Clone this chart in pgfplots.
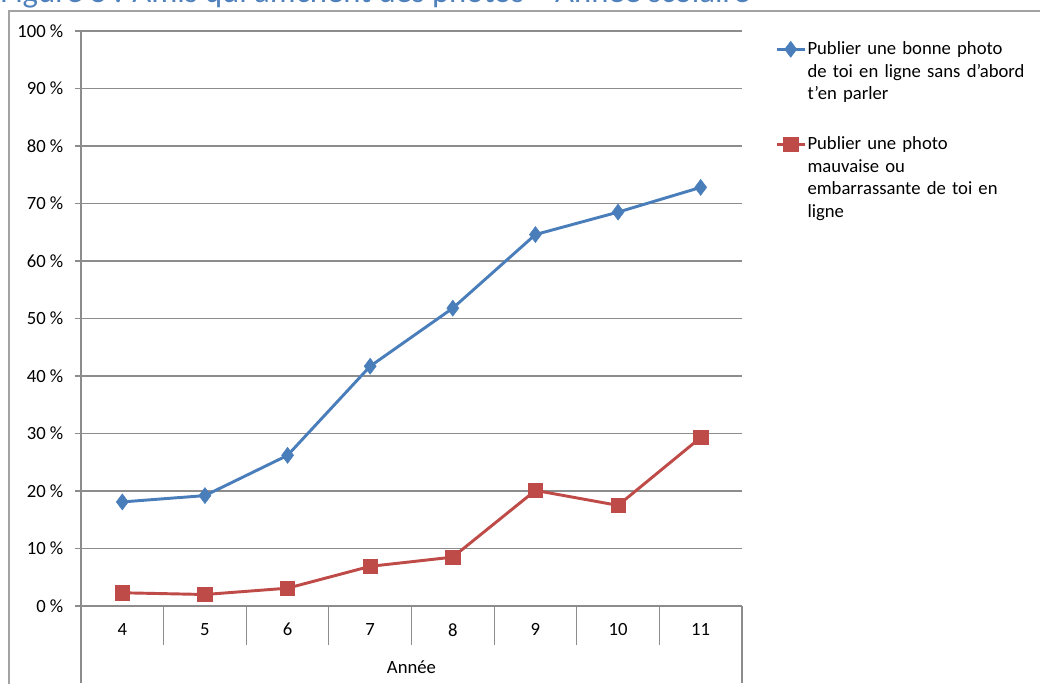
\documentclass[border=0pt]{standalone}
\usepackage{pgfplots}
\pgfplotsset{compat=1.18}
\usepackage{fontspec}
\setmainfont{Carlito}
\definecolor{cblue}{HTML}{4A7EBB}
\definecolor{cred}{HTML}{BE4B48}
\definecolor{ctitle}{HTML}{4F81BD}
\definecolor{cgrid}{HTML}{8C8C8C}
\begin{document}
\begin{tikzpicture}
\useasboundingbox (0pt,0pt) rectangle (780pt,512.25pt);
\node[anchor=base west, inner sep=0, text=ctitle, font=\fontsize{24.5}{29}\selectfont] at (0pt,510pt) {Figure 8 : Amis qui affichent des photos – Année scolaire};
\draw[cgrid!80, line width=0.9pt] (6.75pt,-5pt) -- (6.75pt,504pt) -- (785pt,504pt);
\begin{axis}[
  at={(60.75pt,57.75pt)}, anchor=south west,
  scale only axis, width=495.75pt, height=431.25pt,
  xmin=3.5, xmax=11.5, ymin=0, ymax=100,
  axis x line*=bottom, axis y line*=left,
  axis line style={cgrid, line width=0.9pt, -},
  xtick={4,...,11},
  minor xtick={3.5,4.5,...,11.5},
  ytick={0,10,...,100},
  tick align=outside,
  major tick length=4.5pt,
  minor tick length=29pt,
  major x tick style={draw=none},
  minor x tick style={cgrid, line width=0.9pt},
  major y tick style={cgrid, line width=0.9pt},
  ymajorgrids, grid style={cgrid, line width=0.9pt},
  /pgf/number format/assume math mode=true,
  yticklabel={\pgfmathprintnumber{\tick}~\%},
  ticklabel style={font=\fontsize{14}{17}\selectfont},
  yticklabel style={xshift=-5.25pt},
  xticklabel style={yshift=-5pt},
  xlabel={Année},
  xlabel style={font=\fontsize{14}{17}\selectfont, at={(axis description cs:0.5,0)}, anchor=center, yshift=-45.75pt},
  legend style={at={(1.0499,0.984)}, anchor=north west, draw=none, fill=none, inner sep=0pt,
    font=\fontsize{14}{16.9}\selectfont, row sep=58pt,
    nodes={text width=170pt, align=left, inner sep=1pt}},
  legend cell align=left,
  legend image code/.code={\draw[#1, mark repeat=2, mark phase=2] plot coordinates {(0pt,0pt) (10.5pt,0pt) (21pt,0pt)};},
  clip=false,
]
\addplot[cblue, line width=2.2pt, mark=diamond*, mark size=6pt, mark options={fill=cblue, draw=cblue, line width=0.4pt}]
  coordinates {(4,18.1) (5,19.2) (6,26.2) (7,41.7) (8,51.8) (9,64.6) (10,68.5) (11,72.8)};
\addlegendentry{Publier une bonne photo\newline de toi en ligne sans d’abord\newline t’en parler}
\addplot[cred, line width=2.2pt, mark=square*, mark size=5.4pt, mark options={fill=cred, draw=cred, line width=0.4pt}]
  coordinates {(4,2.3) (5,2.0) (6,3.1) (7,6.9) (8,8.5) (9,20.1) (10,17.5) (11,29.3)};
\addlegendentry{Publier une photo\newline mauvaise ou\newline embarrassante de toi en\newline ligne}
\end{axis}
\draw[cgrid, line width=0.9pt] (60.75pt,57.75pt) -- (60.75pt,0pt);
\draw[cgrid, line width=0.9pt] (556.5pt,57.75pt) -- (556.5pt,0pt);
\end{tikzpicture}
\end{document}
